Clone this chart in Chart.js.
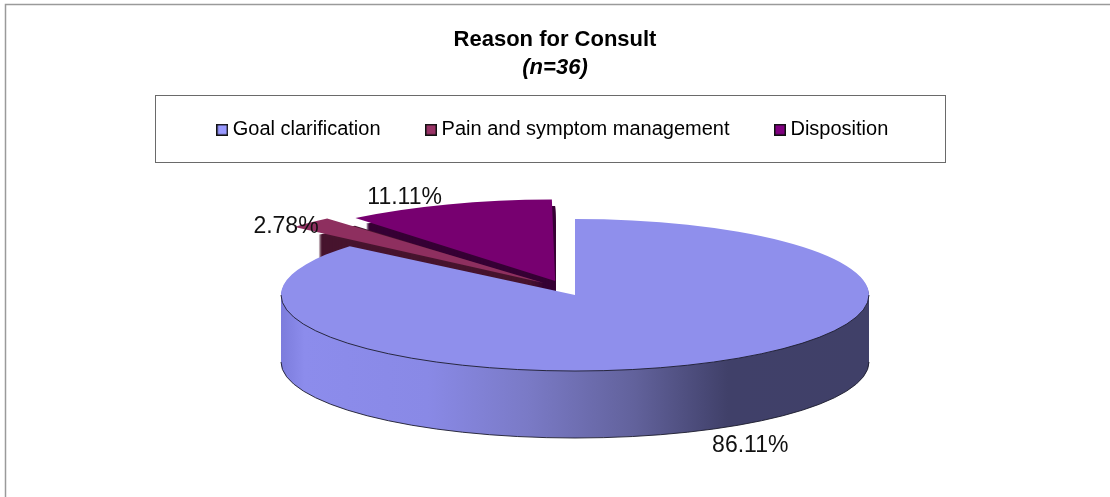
<!DOCTYPE html>
<html>
<head>
<meta charset="utf-8">
<script src="https://cdn.jsdelivr.net/npm/chart.js@4"></script>
<style>
  html, body { margin: 0; background: #fff; }
  canvas { display: block; }
</style>
</head>
<body>
<canvas id="consult-chart" width="1110" height="497"></canvas>
<script>
// Chart data
const categories = ['Goal clarification', 'Pain and symptom management', 'Disposition'];
const shares = [86.11, 2.78, 11.11];

const topColors = ['#8f8fec', '#8e2f5f', '#770070'];
const wallColors = [null, '#47142e', '#360034'];
const legendColors = ['#9999ff', '#993366', '#800080'];
// Arc draws its offset divided by 4
const explode = [0, 176, 232];

// Pie placement on the page
const PIE = { x: 575, y: 295, radius: 294, squash: 76 / 294, depth: 67 };
const sliceLift = [0, -4, 0];
const labelNudge = [[51, 15], [-50, -3], [-50, -12]];

function makeSwatch(color) {
    const c = document.createElement('canvas');
    c.width = 12;
    c.height = 12;
    const g = c.getContext('2d');
    g.fillStyle = '#111';
    g.fillRect(0, 0, 12, 12);
    g.fillStyle = color;
    g.fillRect(1.5, 1.5, 9, 9);
    return c;
}

function enterPie(ctx, arc, shift) {
    ctx.translate(PIE.x, PIE.y + shift);
    ctx.scale(1, PIE.squash);
    ctx.translate(-arc.x, -arc.y);
}

function sliceOffset(arc, i) {
    const mid = (arc.startAngle + arc.endAngle) / 2;
    const d = explode[i] / 4;
    return { x: Math.cos(mid) * d, y: Math.sin(mid) * d, mid: mid };
}

function wallFill(ctx, arc, i) {
    if (wallColors[i]) return wallColors[i];
    const grad = ctx.createLinearGradient(arc.x - PIE.radius, 0, arc.x + PIE.radius, 0);
    grad.addColorStop(0, '#7c7cdc');
    grad.addColorStop(0.04, '#8c8cec');
    grad.addColorStop(0.25, '#8989e6');
    grad.addColorStop(0.42, '#7a7ac6');
    grad.addColorStop(0.6, '#62629c');
    grad.addColorStop(0.76, '#404069');
    grad.addColorStop(1, '#404068');
    return grad;
}

// Side of a slice: the slice outline repeated downwards
function drawWall(ctx, arc, i) {
    const off = sliceOffset(arc, i);
    for (let t = PIE.depth; t > 0; t--) {
        ctx.save();
        enterPie(ctx, arc, t + sliceLift[i]);
        ctx.fillStyle = wallFill(ctx, arc, i);
        ctx.beginPath();
        ctx.moveTo(arc.x + off.x, arc.y + off.y);
        ctx.arc(arc.x + off.x, arc.y + off.y, arc.outerRadius, arc.startAngle, arc.endAngle);
        ctx.closePath();
        ctx.fill();
        ctx.restore();
    }
}

function strokeRim(ctx, arc, shift) {
    const from = Math.max(arc.startAngle, 0);
    const to = Math.min(arc.endAngle, Math.PI);
    ctx.save();
    ctx.save();
    enterPie(ctx, arc, shift);
    ctx.beginPath();
    ctx.arc(arc.x, arc.y, arc.outerRadius, from, to);
    ctx.restore();
    ctx.strokeStyle = '#1c1c2c';
    ctx.lineWidth = 0.9;
    ctx.stroke();
    ctx.restore();
}

const pie3d = {
    id: 'pie3d',
    beforeDraw(chart) {
        const ctx = chart.ctx;
        ctx.save();
        ctx.strokeStyle = '#9a9a9a';
        ctx.lineWidth = 1.5;
        ctx.beginPath();
        ctx.moveTo(5.5, chart.height);
        ctx.lineTo(5.5, 4.5);
        ctx.lineTo(chart.width, 4.5);
        ctx.stroke();
        ctx.strokeStyle = '#6a6a6a';
        ctx.lineWidth = 1;
        ctx.strokeRect(155.5, 95.5, 790, 67);
        ctx.restore();
    },
    afterLayout(chart) {
        // legend sits closer to the subtitle than its item padding allows
        chart.legend.top -= 11;
    },
    beforeDatasetDraw(chart) {
        const ctx = chart.ctx;
        const arcs = chart.getDatasetMeta(0).data;
        // back slices first, the big one covers them
        [2, 1, 0].forEach(i => {
            const arc = arcs[i];
            drawWall(ctx, arc, i);
            ctx.save();
            enterPie(ctx, arc, sliceLift[i]);
            arc.draw(ctx);
            ctx.restore();
        });
        strokeRim(ctx, arcs[0], 0);
        strokeRim(ctx, arcs[0], PIE.depth);
        return false;
    },
    afterDraw(chart) {
        const ctx = chart.ctx;
        const arcs = chart.getDatasetMeta(0).data;
        ctx.save();
        ctx.font = '23px "Liberation Sans"';
        ctx.fillStyle = '#111';
        ctx.textAlign = 'center';
        ctx.textBaseline = 'middle';
        arcs.forEach((arc, i) => {
            const off = sliceOffset(arc, i);
            const rimX = PIE.x + off.x + Math.cos(off.mid) * PIE.radius;
            let rimY = PIE.y + (off.y + Math.sin(off.mid) * PIE.radius) * PIE.squash + sliceLift[i];
            if (Math.sin(off.mid) > 0) rimY += PIE.depth;
            ctx.fillText(shares[i].toFixed(2) + '%', rimX + labelNudge[i][0], rimY + labelNudge[i][1]);
        });
        ctx.restore();
    }
};

new Chart(document.getElementById('consult-chart'), {
    type: 'pie',
    data: {
        labels: categories,
        datasets: [{
            data: shares,
            backgroundColor: topColors,
            borderWidth: 0,
            offset: explode
        }]
    },
    options: {
        responsive: false,
        animation: false,
        radius: PIE.radius,
        layout: { padding: 0 },
        plugins: {
            title: {
                display: true,
                text: 'Reason for Consult',
                color: '#000',
                font: { family: '"Liberation Sans"', size: 22, weight: 'bold', lineHeight: 1.2 },
                padding: { top: 27, bottom: 0 }
            },
            subtitle: {
                display: true,
                text: '(n=36)',
                color: '#000',
                font: { family: '"Liberation Sans"', size: 22, weight: 'bold', style: 'italic', lineHeight: 1.2 },
                padding: { top: 1, bottom: 0 }
            },
            legend: {
                position: 'top',
                labels: {
                    color: '#111',
                    font: { family: '"Liberation Sans"', size: 20 },
                    usePointStyle: true,
                    pointStyleWidth: 1,
                    boxHeight: 12,
                    padding: 50,
                    generateLabels: chart => chart.data.labels.map((text, i) => ({
                        text: text,
                        index: i,
                        fillStyle: legendColors[i],
                        strokeStyle: '#111',
                        lineWidth: 1,
                        pointStyle: makeSwatch(legendColors[i])
                    }))
                }
            },
            tooltip: { enabled: false }
        }
    },
    plugins: [pie3d]
});
</script>
</body>
</html>
